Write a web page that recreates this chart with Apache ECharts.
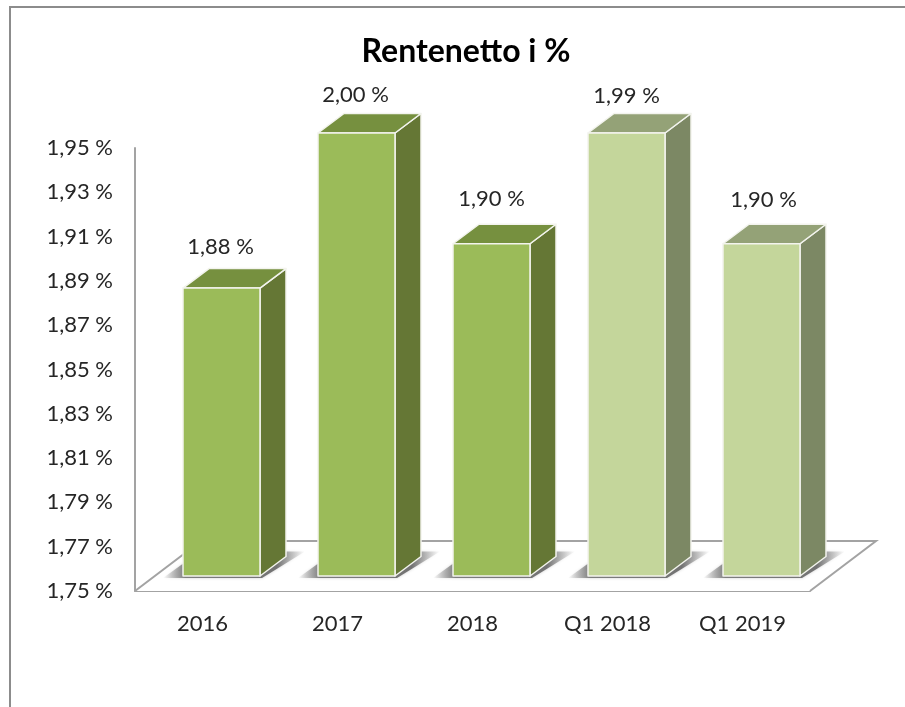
<!DOCTYPE html>
<html>
<head>
<meta charset="utf-8">
<style>html,body{margin:0;padding:0;background:#fff}#c{width:905px;height:707px}</style>
<script src="https://cdn.jsdelivr.net/npm/echarts@6/dist/echarts.min.js"></script>
</head>
<body>
<div id="c"></div>
<script>
var categories = ['2016', '2017', '2018', 'Q1 2018', 'Q1 2019'];
var values = [1.88, 2.00, 1.90, 1.99, 1.90];
var valueLabels = ['1,88 %', '2,00 %', '1,90 %', '1,99 %', '1,90 %'];
var yTickLabels = ['1,75 %', '1,77 %', '1,79 %', '1,81 %', '1,83 %', '1,85 %', '1,87 %', '1,89 %', '1,91 %', '1,93 %', '1,95 %'];
var yMin = 1.75, yMax = 1.95;

var FONT = 'Lato, "Open Sans", sans-serif';
var palette = [
  {front: '#9BBB59', top: '#76903F', side: '#657735'},
  {front: '#9BBB59', top: '#76903F', side: '#657735'},
  {front: '#9BBB59', top: '#76903F', side: '#657735'},
  {front: '#C4D69B', top: '#94A277', side: '#7C8864'},
  {front: '#C4D69B', top: '#94A277', side: '#7C8864'}
];
var labelLift = [41, 38, 45, 37, 44];
var labelShift = [-1, -1, 0, 0, 2];

function renderFloor(params, api) {
  var c = params.coordSys, l = c.x, b = c.y + c.height, r = c.x + c.width;
  return {
    type: 'polyline', silent: true,
    shape: {points: [[l, b], [l + 66, b - 50], [r + 66, b - 50], [r, b]]},
    style: {stroke: '#A3A3A3', lineWidth: 2, fill: '#fff'}
  };
}

function renderBar(params, api) {
  var i = api.value(0), v = api.value(1);
  var dx = 19, dy = 15, halfW = 38.5, depthX = 26, depthY = 19.5;
  var topP = api.coord([i, Math.min(v, yMax)]);
  var baseP = api.coord([i, yMin]);
  var cx = topP[0] + dx, t = topP[1] - dy, b = baseP[1] - dy;
  var L = cx - halfW, R = cx + halfW;
  var p = palette[i];
  var edge = {stroke: '#F3F4EE', lineWidth: 1.5, lineJoin: 'round'};
  function poly(points, fill) {
    return {type: 'polygon', shape: {points: points}, style: Object.assign({fill: fill}, edge)};
  }
  var shadowFill = new echarts.graphic.LinearGradient(0, 0, 1, 0, [
    {offset: 0, color: 'rgba(130,130,130,0)'},
    {offset: 0.16, color: 'rgba(120,120,120,0.95)'},
    {offset: 0.8, color: 'rgba(110,110,110,0.95)'},
    {offset: 1, color: 'rgba(150,150,150,0)'}
  ]);
  return {
    type: 'group',
    children: [
      {type: 'polygon', shape: {points: [[L - 20, b + 2], [R + 2, b + 2], [R + depthX + 19, b - depthY - 5], [L + 17, b - depthY - 5]]},
        style: {fill: shadowFill, shadowBlur: 3, shadowColor: 'rgba(150,150,150,0.5)'}},
      poly([[R, t], [R + depthX, t - depthY], [R + depthX, b - depthY], [R, b]], p.side),
      poly([[L, t], [L + depthX, t - depthY], [R + depthX, t - depthY], [R, t]], p.top),
      poly([[L, t], [R, t], [R, b], [L, b]], p.front),
      {type: 'text', style: {x: cx + labelShift[i], y: t - labelLift[i], text: valueLabels[i], fill: '#262626',
        font: '22px ' + FONT, align: 'center', verticalAlign: 'middle'}}
    ]
  };
}

var chart = echarts.init(document.getElementById('c'), null, {renderer: 'canvas'});
chart.setOption({
  animation: false,
  backgroundColor: '#fff',
  title: {text: 'Rentenetto i %', left: 461, top: 31, textAlign: 'center',
    textStyle: {fontFamily: FONT, fontSize: 32, fontWeight: 'bold', color: '#000'}},
  grid: {left: 135, top: 148, width: 675, height: 443, containLabel: false},
  xAxis: {
    type: 'category', data: categories,
    axisTick: {show: false},
    axisLine: {lineStyle: {color: '#A3A3A3', width: 2}},
    axisLabel: {color: '#262626', fontFamily: FONT, fontSize: 22, margin: 22, interval: 0}
  },
  yAxis: {
    type: 'value', min: yMin, max: yMax, interval: 0.01,
    splitLine: {show: false},
    axisTick: {show: false},
    axisLine: {show: true, lineStyle: {color: '#A3A3A3', width: 2}},
    axisLabel: {
      color: '#262626', fontFamily: FONT, fontSize: 22, margin: 22, padding: [4, 0, 0, 0], showMinLabel: true, showMaxLabel: true,
      formatter: function (v) {
        var n = Math.round((v - yMin) * 100);
        return n % 2 === 0 ? yTickLabels[n / 2] : '';
      }
    }
  },
  graphic: [{
    type: 'polyline', silent: true, z: -1,
    shape: {points: [[10, 707], [10, 7], [905, 7]]},
    style: {stroke: '#8C8C8C', lineWidth: 2, fill: 'none'}
  }],
  series: [
    {type: 'custom', coordinateSystem: 'cartesian2d', renderItem: renderFloor, data: [[0, yMin]], z: 1, silent: true},
    {type: 'custom', coordinateSystem: 'cartesian2d', renderItem: renderBar, encode: {x: 0, y: 1}, clip: false,
      data: values.map(function (v, i) { return [i, v]; }), z: 2, silent: true}
  ]
});
</script>
</body>
</html>
